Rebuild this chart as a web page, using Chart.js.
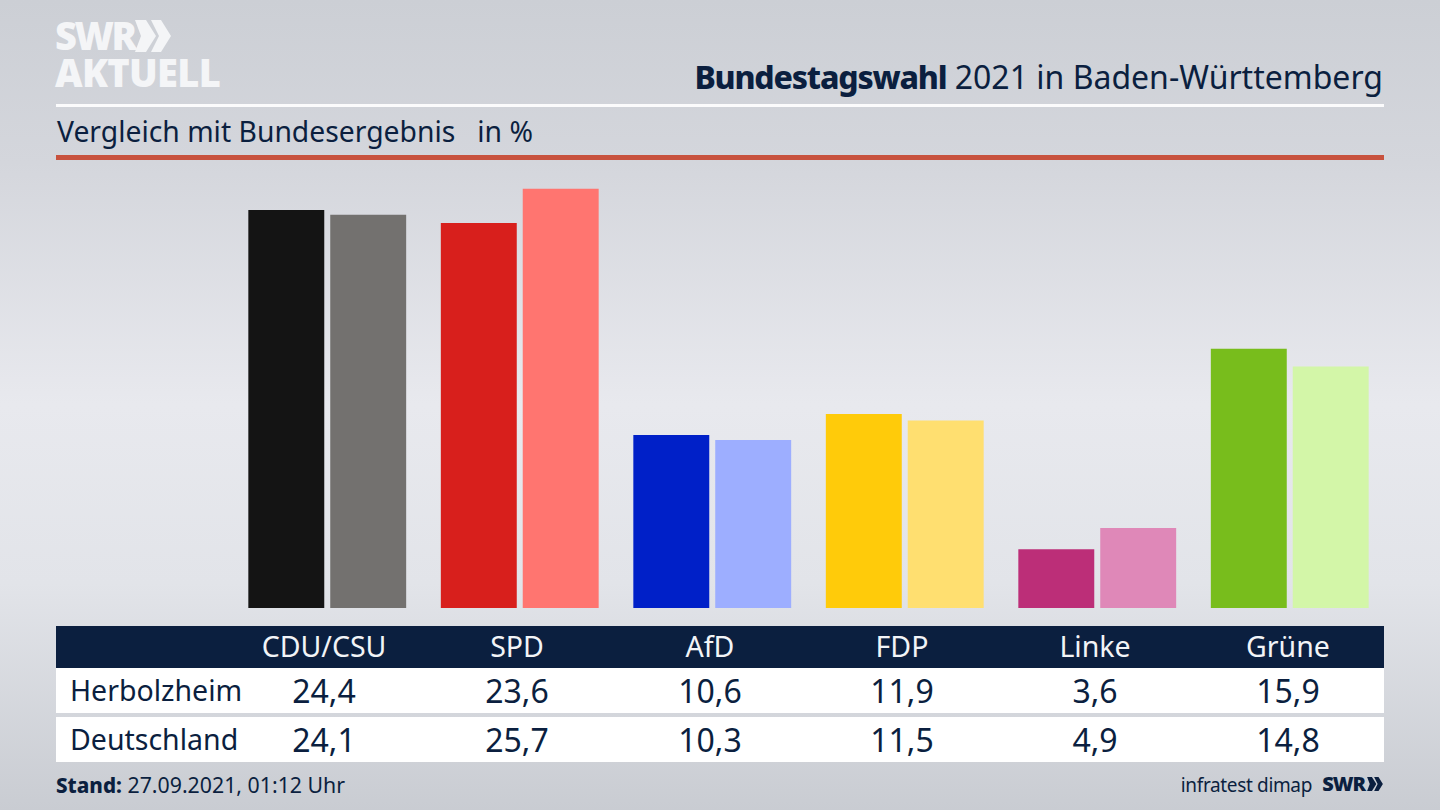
<!DOCTYPE html>
<html lang="de">
<head>
<meta charset="utf-8">
<title>Bundestagswahl 2021 in Baden-Württemberg</title>
<script src="https://cdn.jsdelivr.net/npm/chart.js@4/dist/chart.umd.min.js"></script>
<style>
  html, body { margin: 0; padding: 0; }
  body {
    width: 1440px; height: 810px; overflow: hidden; position: relative;
    font-family: "Noto Sans", sans-serif; color: #0b1f3f;
    background: linear-gradient(180deg, #cccfd5 0%, #d4d6dc 20%, #e8e9ee 50%, #e2e4e9 72%, #c9ccd2 100%);
  }
  .abs { position: absolute; white-space: nowrap; }
  #logo1 { left: 55px; top: 12px; font: 900 38px/46px "Open Sans", sans-serif; color: #f4f5f7; letter-spacing: -2.5px; }
  #logo2 { left: 55px; top: 48px; font: 800 38px/48px "Open Sans", sans-serif; color: #f4f5f7; letter-spacing: -0.7px; }
  #chev { left: 135px; top: 20px; }
  #title { right: 57px; top: 55px; font-size: 32px; line-height: 44px; }
  #title b { font-weight: 800; letter-spacing: -1.2px; }
  #sub { left: 57px; top: 111px; font-size: 28.3px; line-height: 40px; }
  #rule1 { left: 56px; top: 104px; width: 1328px; height: 3px; background: #fbfbfc; }
  #rule2 { left: 56px; top: 155px; width: 1328px; height: 5px; background: #c8523e; }
  #chartBox { left: 231px; top: 170px; width: 1155px; height: 438px; }
  .band { position: absolute; left: 56px; width: 1328px; }
  #head { top: 626px; height: 42px; background: #0b1f3f; }
  #row1 { top: 668px; height: 45px; background: #fff; }
  #row2 { top: 717px; height: 45px; background: #fff; }
  .cell { position: absolute; transform: translateX(-50%); white-space: nowrap; }
  .rowName { position: absolute; left: 70px; font-size: 28.5px; white-space: nowrap; }
  #stand { left: 56px; top: 770px; font-size: 21.3px; line-height: 30px; }
  #stand b { font-weight: 800; font-size: 20.6px; }
  #infra { right: 128px; top: 770px; font-size: 19px; line-height: 30px; letter-spacing: -0.35px; }
  #swr { right: 75px; top: 769px; font: 900 20px/30px "Open Sans", sans-serif; letter-spacing: -1px; }
  #chev2 { left: 1366px; top: 777px; }
</style>
</head>
<body>
  <div class="abs" id="logo1">SWR</div>
  <svg class="abs" id="chev" width="36" height="32" viewBox="0 0 36 32" fill="#f4f5f7">
    <path d="M0 0h11l10 16-10 16H0l6-16z"/><path d="M16 0h10l10 16-10 16H16l8-16z"/>
  </svg>
  <div class="abs" id="logo2">AKTUELL</div>
  <div class="abs" id="title"><b>Bundestagswahl</b> 2021 in Baden-Württemberg</div>
  <div class="abs" id="rule1"></div>
  <div class="abs" id="sub">Vergleich mit Bundesergebnis &nbsp; in %</div>
  <div class="abs" id="rule2"></div>

  <div class="abs" id="chartBox"><canvas id="barChart"></canvas></div>

  <div class="band" id="head"></div>
  <div class="band" id="row1"></div>
  <div class="band" id="row2"></div>
  <div id="tableText"></div>

  <div class="abs" id="stand"><b>Stand:</b> 27.09.2021, 01:12 Uhr</div>
  <div class="abs" id="infra">infratest dimap</div>
  <div class="abs" id="swr">SWR</div>
  <svg class="abs" id="chev2" width="18" height="14" viewBox="0 0 36 32" fill="#0b1f3f">
    <path d="M0 0h11l10 16-10 16H0l6-16z"/><path d="M16 0h10l10 16-10 16H16l8-16z"/>
  </svg>

<script>
const parties = ['CDU/CSU', 'SPD', 'AfD', 'FDP', 'Linke', 'Grüne'];
const herbolzheim = [24.4, 23.6, 10.6, 11.9, 3.6, 15.9];
const deutschland = [24.1, 25.7, 10.3, 11.5, 4.9, 14.8];
const colorsLocal = ['#141414', '#d81f1c', '#0020c8', '#ffcb0a', '#bc2e78', '#78bd1c'];
const colorsFederal = ['#73716f', '#ff7570', '#9daeff', '#ffdf70', '#df88b8', '#d3f6a8'];
const columnCenters = [324, 517, 710, 902, 1095, 1288];

new Chart(document.getElementById('barChart'), {
    type: 'bar',
    data: {
        labels: parties,
        datasets: [
            { label: 'Herbolzheim', data: herbolzheim, backgroundColor: colorsLocal, borderWidth: 0 },
            { label: 'Deutschland', data: deutschland, backgroundColor: colorsFederal, borderWidth: 0 }
        ]
    },
    options: {
        responsive: true,
        maintainAspectRatio: false,
        animation: false,
        categoryPercentage: 0.851,
        barPercentage: 0.927,
        plugins: { legend: { display: false }, tooltip: { enabled: false } },
        scales: {
            x: { display: false },
            y: { display: false, min: 0, max: 26.85 }
        }
    }
});

// Table under the chart
const tableText = document.getElementById('tableText');
function addCell(text, x, y, size, color) {
    const el = document.createElement('div');
    el.className = 'cell';
    el.textContent = text;
    el.style.cssText = `left:${x}px;top:${y}px;font-size:${size}px;line-height:42px;color:${color}`;
    tableText.appendChild(el);
}
function addRowName(text, y) {
    const el = document.createElement('div');
    el.className = 'rowName';
    el.textContent = text;
    el.style.cssText = `top:${y}px;line-height:42px`;
    tableText.appendChild(el);
}
const fmt = v => v.toFixed(1).replace('.', ',');
parties.forEach((p, i) => {
    addCell(p, columnCenters[i], 625, 28.5, '#f2f4f7');
    addCell(fmt(herbolzheim[i]), columnCenters[i], 670, 32, '#0b1f3f');
    addCell(fmt(deutschland[i]), columnCenters[i], 719, 32, '#0b1f3f');
});
addRowName('Herbolzheim', 669);
addRowName('Deutschland', 718);
</script>
</body>
</html>
